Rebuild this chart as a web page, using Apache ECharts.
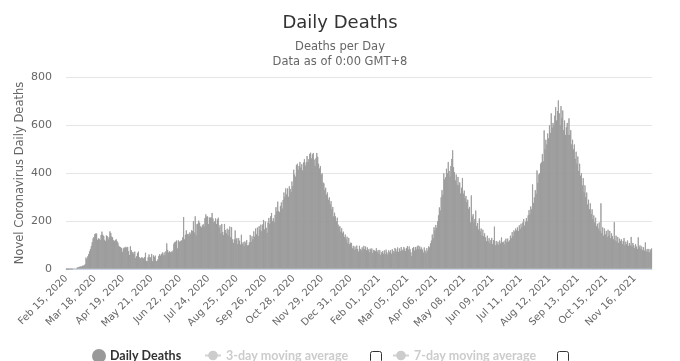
<!DOCTYPE html>
<html>
<head>
<meta charset="utf-8">
<script src="https://cdn.jsdelivr.net/npm/echarts@6/dist/echarts.min.js"></script>
<style>html,body{margin:0;padding:0;background:#fff}#c{width:680px;height:361px}</style>
</head>
<body>
<div id="c"></div>
<script>
// Daily deaths, one value per day starting Feb 15, 2020
var startDate = [2020, 1, 15]; // year, month index (0-based), day
var feb2020 = [0,0,0,0,2,0,2,1,3,4,4,3,7,8,9];
var mar2020 = [11,12,11,15,15,16,21,49,43,54,63,75,85,97,113,129,135,147,149,149,123,129,127,122,143,157,144,139,123,117,141];
var apr2020 = [138,124,134,158,151,136,133,121,117,122,125,117,111,98,94,92,89,73,87,91,88,94,90,93,76,60,96,80,71,71];
var may2020 = [63,74,47,55,68,74,51,45,48,50,48,45,51,69,35,34,51,62,49,50,64,34,58,51,57,34,35,41,56,63,57];
var jun2020 = [64,70,59,70,59,75,108,81,70,75,71,74,71,78,107,113,115,120,87,121,115,116,119,121,133,218,125,144,162,147];
var jul2020 = [148,141,154,148,163,160,200,153,221,142,188,190,203,194,179,174,183,188,179,213,229,219,221,188,216,215,216,235,212,196,200];
var aug2020 = [212,189,208,215,174,184,150,189,156,143,189,164,151,169,141,165,178,134,176,125,110,125,162,125,130,105,130,119,103,144,106];
var sep2020 = [113,97,116,108,122,99,101,112,143,114,138,125,158,136,170,146,174,139,180,164,186,158,187,206,166,199,173,152,195,214];
var oct2020 = [190,221,235,201,213,196,227,259,241,282,243,238,264,279,253,289,320,302,337,312,337,302,346,335,322,366,346,415,395,386,434];
var nov2020 = [440,415,431,447,424,438,412,445,459,432,446,472,447,459,481,486,462,479,485,457,431,463,485,469,440,420,430,395,400,362];
var dec2020 = [358,330,340,311,320,290,300,270,284,250,260,220,236,221,200,215,186,175,180,157,171,152,157,134,145,124,136,108,131,104,111];
var jan2021 = [110,88,98,81,95,84,99,85,74,98,85,79,92,84,98,84,95,79,91,83,72,86,80,87,68,81,78,75,88,73,80];
var feb2021 = [65,80,60,71,76,65,79,63,82,70,61,79,71,80,65,84,76,70,89,84,74,91,72,87,76,93,82,77];
var mar2021 = [93,86,76,89,97,82,95,84,71,55,89,93,78,93,83,95,99,83,96,84,91,82,70,91,78,68,88,76,96,91,108];
var apr2021 = [120,145,130,175,161,185,173,200,225,258,245,300,330,310,400,375,384,419,400,447,410,387,430,460,496,426,405,370,395,352];
var may2021 = [385,350,362,316,340,380,315,328,295,306,280,290,252,260,195,308,220,230,195,210,245,180,193,166,212,158,170,140,165,138,150];
var jun2021 = [133,118,140,116,130,108,122,131,105,122,178,100,118,105,115,102,120,108,133,112,115,104,120,128,113,128,115,120,140,130];
var jul2021 = [155,138,162,157,170,162,175,160,183,168,190,176,195,210,182,198,214,200,225,247,230,262,250,354,277,300,330,315,412,360,395];
var aug2021 = [400,440,446,480,450,579,500,540,520,566,546,600,568,650,590,610,600,640,676,620,660,704,650,600,680,630,662,580,620,560,592];
var sep2021 = [610,560,629,560,580,520,540,500,520,460,490,440,470,410,440,390,400,350,380,320,350,300,320,270,290,250,275,230,250,210];
var oct2021 = [225,195,215,180,190,170,195,160,275,150,175,140,170,145,160,135,165,140,160,130,150,138,125,197,120,140,115,135,110,128,118];
var nov2021 = [125,105,118,130,100,115,105,120,98,110,100,135,95,110,100,88,105,95,85,133,92,100,85,95,80,92,78,112,75,85];
var dec2021 = [72,85,70,82,87];

var dailyDeaths = [].concat(feb2020, mar2020, apr2020, may2020, jun2020, jul2020, aug2020, sep2020, oct2020, nov2020, dec2020,
  jan2021, feb2021, mar2021, apr2021, may2021, jun2021, jul2021, aug2021, sep2021, oct2021, nov2021, dec2021);

var monthNames = ['Jan','Feb','Mar','Apr','May','Jun','Jul','Aug','Sep','Oct','Nov','Dec'];
var categories = [];
for (var i = 0; i < dailyDeaths.length; i++) {
  var d = new Date(Date.UTC(startDate[0], startDate[1], startDate[2] + i));
  var dd = d.getUTCDate();
  categories.push(monthNames[d.getUTCMonth()] + ' ' + (dd < 10 ? '0' + dd : dd) + ', ' + d.getUTCFullYear());
}
var yTicks = [0, 200, 400, 600, 800];
var legendNames = ['Daily Deaths', '3-day moving average', '7-day moving average'];

var font = '"DejaVu Sans", sans-serif';
var legendFont = 'Lato, sans-serif';
function legendAt(name, left, icon) {
  var item = {name: name};
  if (icon) item.icon = icon;
  return {
    left: left, top: 344, itemWidth: icon ? 12 : 16, itemHeight: 12, itemGap: 8,
    textStyle: {fontFamily: legendFont, fontSize: 12.5, fontWeight: 'bold', color: '#333'},
    inactiveColor: '#ccc', data: [item],
    selected: {'3-day moving average': false, '7-day moving average': false}
  };
}
var chart = echarts.init(document.getElementById('c'), null, {renderer: 'canvas'});
chart.setOption({
  animation: false,
  title: {
    text: 'Daily Deaths',
    subtext: 'Deaths per Day\nData as of 0:00 GMT+8',
    left: 'center', top: 9, itemGap: 8,
    textStyle: {fontFamily: font, fontSize: 18, fontWeight: 'normal', color: '#333'},
    subtextStyle: {fontFamily: font, fontSize: 11.5, color: '#666', lineHeight: 15}
  },
  grid: {left: 66, right: 28, top: 77, bottom: 92, containLabel: false},
  xAxis: {
    type: 'category',
    data: categories,
    boundaryGap: true,
    axisLine: {lineStyle: {color: '#ccd6eb'}},
    axisTick: {show: false},
    axisLabel: {interval: 31, rotate: 45, fontFamily: font, fontSize: 10, color: '#666', margin: 8}
  },
  yAxis: {
    type: 'value',
    min: yTicks[0], max: yTicks[yTicks.length - 1], interval: 200,
    name: 'Novel Coronavirus Daily Deaths',
    nameLocation: 'middle', nameGap: 40, nameMoveOverlap: false,
    nameTextStyle: {fontFamily: font, fontSize: 11.5, color: '#666'},
    axisLine: {show: false}, axisTick: {show: false},
    axisLabel: {fontFamily: font, fontSize: 11, color: '#666', margin: 14},
    splitLine: {lineStyle: {color: '#e6e6e6'}}
  },
  legend: [
    legendAt(legendNames[0], 87, 'circle'),
    legendAt(legendNames[1], 199),
    legendAt(legendNames[2], 387)
  ],
  graphic: [
    {type: 'rect', left: 370, top: 351, shape: {width: 11, height: 11, r: 2}, style: {fill: '#fff', stroke: '#333', lineWidth: 1}},
    {type: 'rect', left: 557, top: 351, shape: {width: 11, height: 11, r: 2}, style: {fill: '#fff', stroke: '#333', lineWidth: 1}}
  ],
  series: [
    {name: legendNames[0], type: 'bar', data: dailyDeaths, barWidth: 1, itemStyle: {color: '#999', borderColor: '#999', borderWidth: 0.8}},
    {name: legendNames[1], type: 'line', data: [], symbol: 'circle', itemStyle: {color: '#999'}},
    {name: legendNames[2], type: 'line', data: [], symbol: 'circle', itemStyle: {color: '#999'}}
  ]
});
</script>
</body>
</html>
